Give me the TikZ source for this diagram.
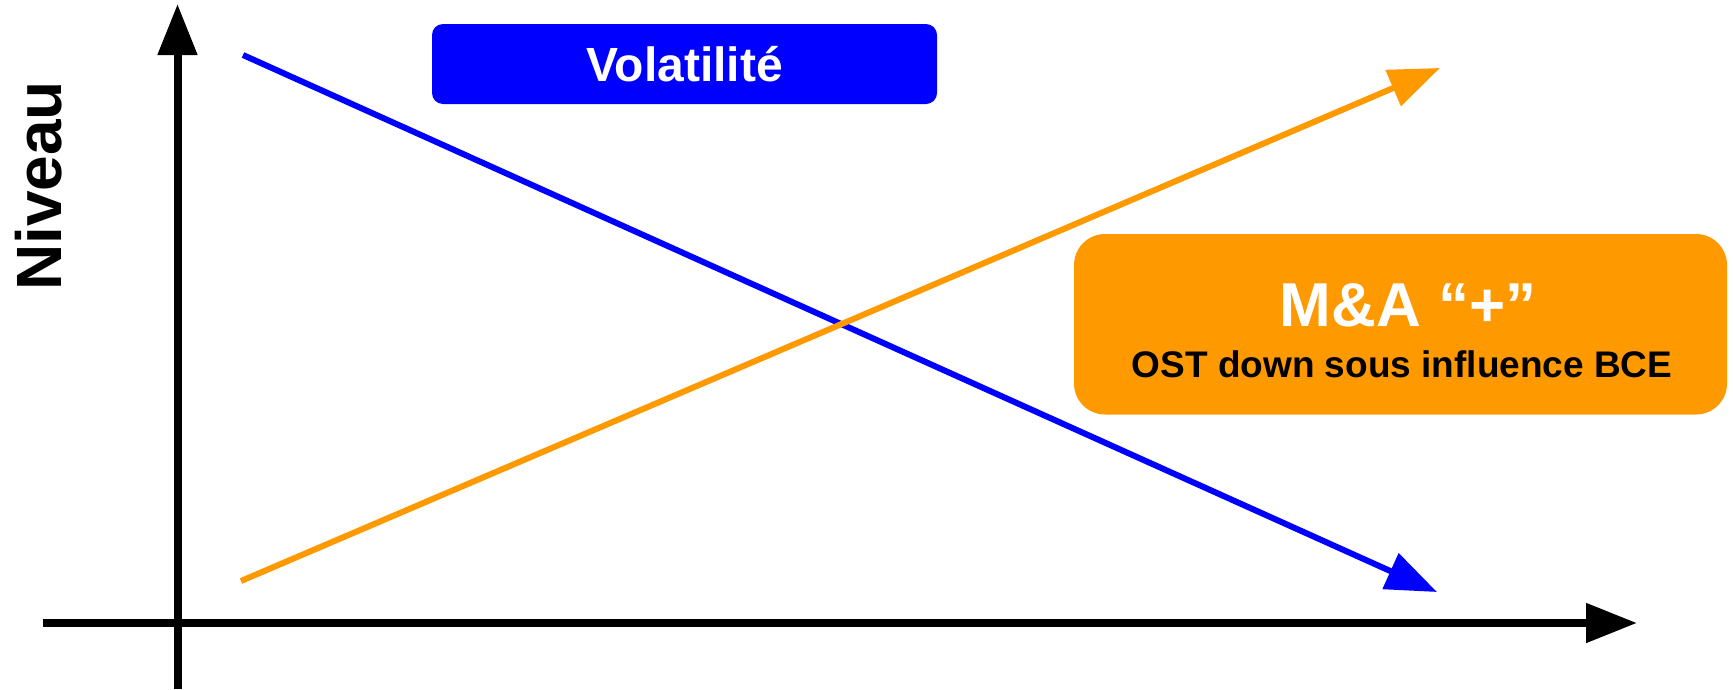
\documentclass[tikz,border=0pt]{standalone}
\usepackage{fontspec}
\setmainfont{Liberation Sans}
\usetikzlibrary{arrows.meta}
\definecolor{orng}{HTML}{FF9900}
\definecolor{blu}{HTML}{0000FF}
\tikzset{
  axis/.style={line width=8pt,-{Triangle[length=51pt,width=38pt]}},
  trend/.style={line width=6pt,-{Triangle[length=51pt,width=38pt]}},
  lbl/.style={inner sep=0pt,font=\bfseries},
}
\begin{document}
\begin{tikzpicture}[x=1pt,y=-1pt]
\useasboundingbox (0,0) rectangle (1733,689);
% axes
\coordinate (xs) at (43,623);
\coordinate (xe) at (1637,623);
\coordinate (ys) at (177.5,689);
\coordinate (ye) at (177.5,4);
\draw[axis] (xs) -- (xe);
\draw[axis] (ys) -- (ye);
% y label
\node[lbl,rotate=90,font=\bfseries\fontsize{64}{70}\selectfont] (niv) at (39,186) {Niveau};
% trend lines
\coordinate (os) at (241,581);
\coordinate (oe) at (1440,68);
\coordinate (bs) at (243,55);
\coordinate (be) at (1437,592);
\draw[trend,blu] (bs) -- (be);
\draw[trend,orng] (os) -- (oe);
% Volatilite box
\fill[blu,rounded corners=11pt] (432,24) rectangle (937,104);
\node[lbl,white,font=\bfseries\fontsize{48}{56}\selectfont] (vol) at (684.5,64) {Volatilité};
% M&A box
\fill[orng,rounded corners=31pt] (1074,234) rectangle (1727,414.5);
\node[lbl,white,anchor=base,font=\bfseries\fontsize{62}{70}\selectfont] (ma) at (1408,326) {M\&A “+”};
\node[lbl,black,anchor=base,font=\bfseries\fontsize{37}{44}\selectfont] (ost) at (1402,377) {OST down sous influence BCE};
\end{tikzpicture}
\end{document}
